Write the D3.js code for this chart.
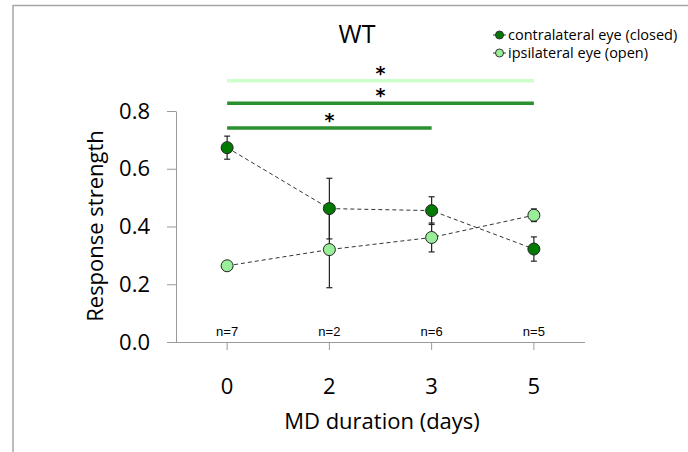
<!DOCTYPE html>
<html><head><meta charset="utf-8">
<script src="https://cdn.jsdelivr.net/npm/d3@7/dist/d3.min.js"></script>
<style>body{margin:0;background:#fff}svg{display:block}text{font-family:"Open Sans",sans-serif}</style>
</head><body>
<svg id="c" width="688" height="452"></svg>
<script>
const categories = ["0","2","3","5"];
const nLabels = ["n=7","n=2","n=6","n=5"];
const contraMean = [0.673,0.462,0.455,0.322];
const contraErr  = [0.040,0.105,0.048,0.042];
const ipsiMean   = [0.264,0.320,0.362,0.439];
const ipsiErr    = [0.004,0.132,0.050,0.022];
const yTicks = [0,0.2,0.4,0.6,0.8];
const sigBars = [
  {from:"0", to:"5", level:0.905, color:"#ccffcc"},
  {from:"0", to:"5", level:0.827, color:"#2a8f2e"},
  {from:"0", to:"3", level:0.741, color:"#2a8f2e"}
];
const seriesNames = ["contralateral eye (closed)","ipsilateral eye (open)"];
const seriesColors = ["#007a00","#99ee99"];
const FONT = "'Open Sans',sans-serif";

const svg = d3.select("#c");
// frame
svg.append("path").attr("d","M13,452V5.5H688").attr("fill","none").attr("stroke","#a6a6a6").attr("stroke-width",1.5);

const x = d3.scaleBand().domain(categories).range([176,585]);
const y = d3.scaleLinear().domain([0,0.8]).range([342,111]);
const cx = c => x(c)+x.bandwidth()/2;

// y axis
const ya = svg.append("g").attr("transform","translate(176,0)")
  .call(d3.axisLeft(y).tickValues(yTicks).tickFormat(d3.format(".1f")).tickSize(9).tickSizeOuter(0));
ya.select(".domain").attr("stroke","#9a9a9a");
ya.selectAll(".tick line").attr("stroke","#9a9a9a");
ya.selectAll(".tick text").attr("font-size",22).attr("fill","#000").attr("x",-26).style("font-family",FONT);

// x axis
const xa = svg.append("g").attr("transform","translate(0,342)")
  .call(d3.axisBottom(x).tickSize(8).tickSizeOuter(0));
xa.select(".domain").attr("stroke","#9a9a9a").attr("d","M167,0.5H585");
xa.selectAll(".tick line").attr("stroke","#9a9a9a");
xa.selectAll(".tick text").attr("font-size",22).attr("fill","#000").attr("y",52).attr("dy","0").style("font-family",FONT);

// axis titles
svg.append("text").attr("x",382).attr("y",429).attr("text-anchor","middle").attr("font-size",22).text("MD duration (days)");
svg.append("text").attr("transform","translate(103,226) rotate(-90)").attr("text-anchor","middle").attr("font-size",22).text("Response strength");
svg.append("text").attr("x",357).attr("y",43).attr("text-anchor","middle").attr("font-size",25).text("WT");

// n labels
svg.selectAll(".nl").data(categories).enter().append("text")
  .attr("x",d=>cx(d)).attr("y",336).attr("text-anchor","middle").attr("font-size",13)
  .style("font-family","Arial,'Liberation Sans',sans-serif").text((d,i)=>nLabels[i]);

// significance bars
sigBars.forEach(b=>{
  svg.append("line").attr("x1",cx(b.from)).attr("x2",cx(b.to)).attr("y1",y(b.level)).attr("y2",y(b.level))
    .attr("stroke",b.color).attr("stroke-width",3.5);
  svg.append("text").attr("x",(cx(b.from)+cx(b.to))/2).attr("y",y(b.level)-1).attr("text-anchor","middle")
    .attr("font-size",19).attr("font-weight","bold").style("font-family","'DejaVu Sans',sans-serif").text("*");
});

function drawSeries(means, errs, color){
  const pts = categories.map((c,i)=>[cx(c),y(means[i])]);
  svg.append("path").attr("d",d3.line()(pts)).attr("fill","none").attr("stroke","#333").attr("stroke-width",1).attr("stroke-dasharray","4,3");
  return {pts, means, errs, color};
}
const sA = drawSeries(contraMean, contraErr, seriesColors[0]);
const sB = drawSeries(ipsiMean, ipsiErr, seriesColors[1]);
[sA,sB].forEach(s=>{
  categories.forEach((c,i)=>{
    const X=cx(c), t=y(s.means[i]+s.errs[i]), b=y(s.means[i]-s.errs[i]);
    svg.append("line").attr("x1",X).attr("x2",X).attr("y1",t).attr("y2",b).attr("stroke","#222").attr("stroke-width",1.2);
    [t,b].forEach(v=>svg.append("line").attr("x1",X-3).attr("x2",X+3).attr("y1",v).attr("y2",v).attr("stroke","#222").attr("stroke-width",1.2));
  });
});
[sA,sB].forEach(s=>{
  svg.selectAll(null).data(s.pts).enter().append("circle").attr("cx",d=>d[0]).attr("cy",d=>d[1]).attr("r",6)
    .attr("fill",s.color).attr("stroke","#222").attr("stroke-width",1);
});

// legend
seriesNames.forEach((n,i)=>{
  const ly = 35 + i*18;
  svg.append("line").attr("x1",493).attr("x2",506).attr("y1",ly).attr("y2",ly).attr("stroke","#333").attr("stroke-width",1);
  svg.append("circle").attr("cx",499.5).attr("cy",ly).attr("r",4).attr("fill",seriesColors[i]).attr("stroke","#333").attr("stroke-width",1);
  svg.append("text").attr("x",508).attr("y",ly+5).attr("font-size",14.5).text(n);
});
</script>
</body></html>
